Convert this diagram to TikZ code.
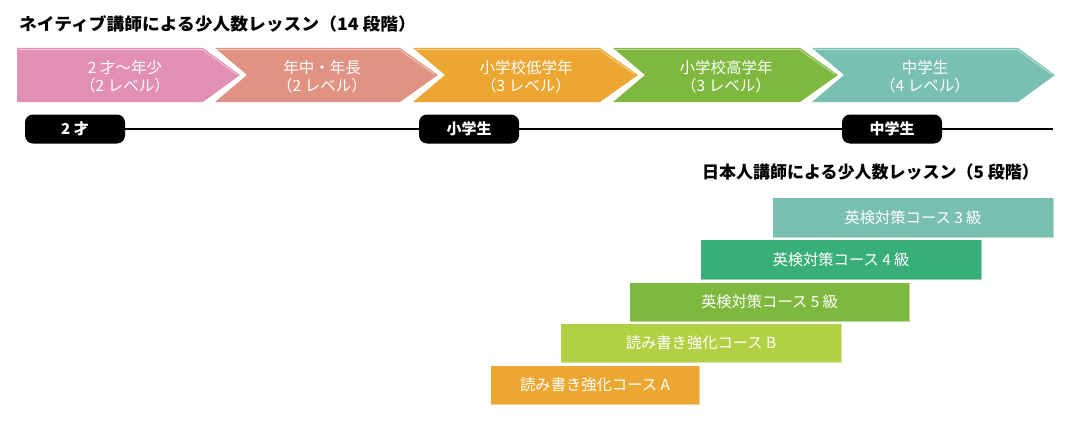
\documentclass[tikz,border=0pt]{standalone}
\usepackage{fontspec}
\setmainfont{Noto Sans CJK JP}
\definecolor{cpink}{RGB}{226,143,180}
\definecolor{csalmon}{RGB}{224,147,130}
\definecolor{corange}{RGB}{236,166,50}
\definecolor{cgreen}{RGB}{127,184,62}
\definecolor{cteal}{RGB}{122,192,178}
\definecolor{cgreenb}{RGB}{56,174,120}
\definecolor{clime}{RGB}{178,208,68}
\tikzset{
  chevtext/.style={text=white, align=center, inner sep=0pt, font=\fontsize{15.5}{18}\selectfont},
  pill/.style={fill=black, text=white, rounded corners=8pt, minimum width=100pt, minimum height=29pt, inner sep=0pt, font=\bfseries\fontsize{15}{17}\selectfont},
  coursebar/.style={anchor=north west, draw=white, draw opacity=0.45, line width=1pt, text=white, inner sep=0pt, minimum height=40pt, font=\fontsize{15.3}{17}\selectfont},
  titletext/.style={inner sep=0pt, font=\bfseries\fontsize{17}{19}\selectfont},
  shine/.style={draw=white, draw opacity=0.5, line width=0.8pt},
  timeline/.style={line width=1.5pt, black}
}
\begin{document}
\begin{tikzpicture}[x=1pt,y=-1pt]
\useasboundingbox (0,0) rectangle (1070,420);
% title 1
\node[titletext, anchor=west] (title1) at (19,24) {\scalebox{1.045}[1]{ネイティブ講師による少人数レッスン（14 段階）}};
% chevrons
\fill[cpink] (17,48) -- (203,48) -- (240,75) -- (203,102) -- (17,102) -- cycle;
\fill[csalmon] (215,48) -- (400,48) -- (438,75) -- (400,102) -- (215,102) -- (247,75) -- cycle;
\fill[corange] (413,48) -- (600,48) -- (638,75) -- (600,102) -- (413,102) -- (445,75) -- cycle;
\fill[cgreen] (613,48) -- (800,48) -- (838,75) -- (800,102) -- (613,102) -- (645,75) -- cycle;
\fill[cteal] (812,48) -- (1018,48) -- (1055,75) -- (1018,102) -- (812,102) -- (844,75) -- cycle;
\draw[shine] (18,49.5) -- (202,49.5) -- (237,74.5);
\draw[shine] (217,49.5) -- (399,49.5) -- (435,74.5);
\draw[shine] (415,49.5) -- (599,49.5) -- (635,74.5);
\draw[shine] (615,49.5) -- (799,49.5) -- (835,74.5);
\draw[shine] (814,49.5) -- (1017,49.5) -- (1052,74.5);
\node[chevtext] (c1) at (125,77) {2 才〜年少\\（2 レベル）};
\node[chevtext] (c2) at (322,77) {年中・年長\\（2 レベル）};
\node[chevtext] (c3) at (526,77) {小学校低学年\\（3 レベル）};
\node[chevtext] (c4) at (726,77) {小学校高学年\\（3 レベル）};
\node[chevtext] (c5) at (925,77) {中学生\\（4 レベル）};
% timeline
\node[pill] (p1) at (75,129) {2 才};
\node[pill] (p2) at (469,129) {小学生};
\node[pill] (p3) at (892,129) {中学生};
\coordinate (lend) at (1053,129);
\draw[timeline] (p1.east) -- (p2.west);
\draw[timeline] (p2.east) -- (p3.west);
\draw[timeline] (p3.east) -- (lend);
% title 2
\node[titletext, anchor=east] (title2) at (1039,172) {日本人講師による少人数レッスン（5 段階）};
% course bars
\node[coursebar, fill=cteal, minimum width=281pt] (b1) at (772,197) {英検対策コース 3 級};
\node[coursebar, fill=cgreenb, minimum width=281pt] (b2) at (700,239) {英検対策コース 4 級};
\node[coursebar, fill=cgreen, minimum width=280pt, minimum height=39pt] (b3) at (629,282) {英検対策コース 5 級};
\node[coursebar, fill=clime, minimum width=281pt, minimum height=39pt] (b4) at (560,323) {読み書き強化コース B};
\node[coursebar, fill=corange, minimum width=209pt, minimum height=39pt] (b5) at (490,365) {読み書き強化コース A};
\end{tikzpicture}
\end{document}
